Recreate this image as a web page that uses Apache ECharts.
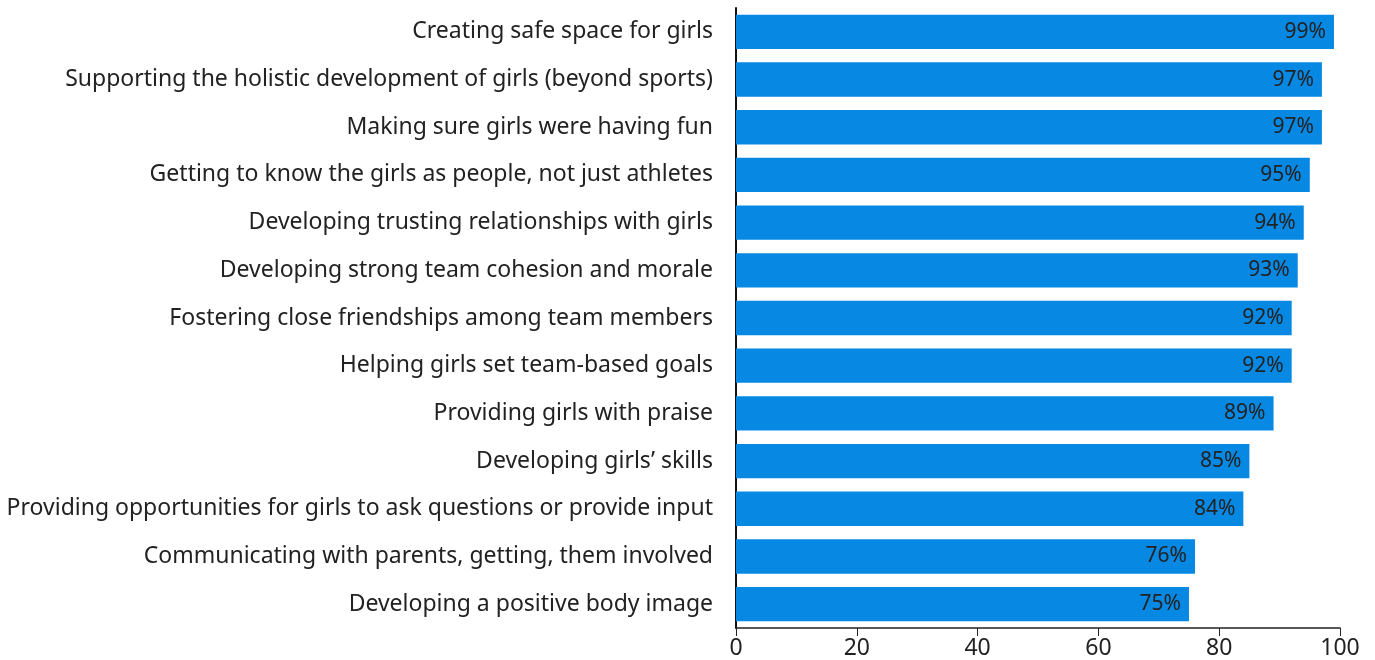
<!DOCTYPE html>
<html><head><meta charset="utf-8">
<script src="https://cdn.jsdelivr.net/npm/echarts@6/dist/echarts.min.js"></script>
<style>html,body{margin:0;padding:0;background:#fff}#c{width:1375px;height:660px}</style>
</head><body><div id="c"></div>
<script>
const categories = [
  "Creating safe space for girls",
  "Supporting the holistic development of girls (beyond sports)",
  "Making sure girls were having fun",
  "Getting to know the girls as people, not just athletes",
  "Developing trusting relationships with girls",
  "Developing strong team cohesion and morale",
  "Fostering close friendships among team members",
  "Helping girls set team-based goals",
  "Providing girls with praise",
  "Developing girls\u2019 skills",
  "Providing opportunities for girls to ask questions or provide input",
  "Communicating with parents, getting, them involved",
  "Developing a positive body image"
];
const values = [99, 97, 97, 95, 94, 93, 92, 92, 89, 85, 84, 76, 75];
const xTicks = [0, 20, 40, 60, 80, 100];

const FONT = "Noto Sans";
const chart = echarts.init(document.getElementById('c'), null, {renderer: 'canvas'});
chart.setOption({
  animation: false,
  grid: {left: 736, right: 35, top: 8, bottom: 31, containLabel: false},
  xAxis: {
    type: 'value', min: xTicks[0], max: xTicks[xTicks.length - 1], interval: 20,
    axisLine: {show: true, lineStyle: {color: '#222', width: 1.5}},
    axisTick: {show: true, length: 8, lineStyle: {color: '#222'}},
    splitLine: {show: false},
    axisLabel: {color: '#222', fontSize: 23, fontFamily: FONT, margin: 9}
  },
  yAxis: {
    type: 'category', data: categories, inverse: true,
    axisLine: {show: true, lineStyle: {color: '#111', width: 2}},
    axisTick: {show: false},
    axisLabel: {color: '#222', fontSize: 23, fontFamily: FONT, margin: 23, padding: [5, 0, 0, 0]}
  },
  series: [{
    type: 'bar', data: values, barCategoryGap: '28%',
    itemStyle: {color: '#0788E3'},
    label: {show: true, position: 'insideRight', distance: 8, formatter: '{c}%',
      color: '#222', fontSize: 21, fontFamily: FONT, padding: [4, 0, 0, 0]}
  }]
});
</script></body></html>
